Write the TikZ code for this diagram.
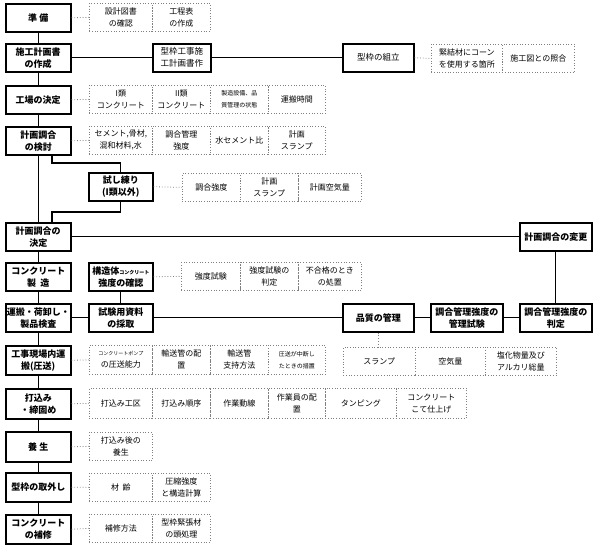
\documentclass[tikz,border=0pt]{standalone}
\usepackage{fontspec}
\setmainfont{Noto Sans CJK JP}
\begin{document}
\begin{tikzpicture}[x=1pt,y=-1pt,
  mainbox/.style={draw=black,line width=1.5pt,fill=white,font=\bfseries\fontsize{9}{12}\selectfont},
  subbox/.style={draw=black,line width=1.5pt,fill=white,font=\fontsize{8.5}{12}\selectfont},
  cellbox/.style={draw=gray,dotted,line width=0.7pt,font=\fontsize{8}{12}\selectfont},
  conn/.style={line width=1.2pt,black},
  dconn/.style={gray,dotted,line width=0.8pt}]
\useasboundingbox (0,0) rectangle (600,544);
\newcommand\bx[7][mainbox]{\node[#1,inner sep=0pt,align=center,anchor=north west,minimum width={(#5-#3)*1pt},minimum height={(#6-#4)*1pt}] (#2) at (#3,#4) {#7};}
\newcommand\smalltxt{\fontsize{6}{10}\selectfont}
% main column
\bx{m1}{5}{3}{70}{31}{準\ 備}
\bx{m2}{5}{43}{70}{71}{施工計画書\\の作成}
\bx{m3}{5}{85}{70}{113}{工場の決定}
\bx{m4}{5}{126}{70}{154}{計画調合\\の検討}
\bx{m5}{5}{222}{70}{250}{計画調合の\\決定}
\bx{m6}{5}{262}{70}{290}{コンクリート\\製\ \ 造}
\bx{m7}{5}{303}{70}{331}{運搬・荷卸し・\\製品検査}
\bx{m8}{5}{345}{70}{374}{工事現場内運\\搬(圧送)}
\bx{m9}{5}{388}{70}{418}{打込み\\・締固め}
\bx{m10}{5}{431}{70}{461}{養\ 生}
\bx{m11}{5}{472}{70}{501}{型枠の取外し}
\bx{m12}{5}{514}{70}{543}{コンクリート\\の補修}
\foreach \a/\b in {m1/m2,m2/m3,m3/m4,m4/m5,m5/m6,m6/m7,m7/m8,m8/m9,m9/m10,m10/m11,m11/m12}
  \draw[conn] (\a.south) -- (\b.north);
% other solid boxes
\bx[subbox]{kk}{152}{43}{210}{71}{型枠工事施\\工計画書作}
\bx[subbox]{kg}{342}{43}{413}{71}{型枠の組立}
\bx[mainbox]{tr}{88}{172}{152}{200}{試し練り\\(I類以外)}
\bx[mainbox]{hk}{519}{222}{591}{250}{計画調合の変更}
\bx[mainbox]{sk}{88}{262}{152}{290}{構造体{\fontsize{5}{8}\selectfont コンクリート}\\強度の確認}
\bx[mainbox]{sr}{88}{303}{152}{331}{試験用資料\\の採取}
\bx[mainbox]{qm}{342}{303}{413}{331}{品質の管理}
\bx[mainbox]{kt}{430}{303}{502}{331}{調合管理強度の\\管理試験}
\bx[mainbox]{hj}{519}{303}{591}{331}{調合管理強度の\\判定}
% cells
\bx[cellbox]{a1}{89}{3}{152}{31}{設計図書\\の確認}
\bx[cellbox]{a2}{152}{3}{210}{31}{工程表\\の作成}
\bx[cellbox]{g1}{431}{44}{502}{72}{緊結材にコーン\\を使用する箇所}
\bx[cellbox]{g2}{502}{44}{574}{72}{施工図との照合}
\bx[cellbox]{b1}{89}{85}{152}{113}{I類\\コンクリート}
\bx[cellbox]{b2}{152}{85}{210}{113}{II類\\コンクリート}
\bx[cellbox]{b3}{210}{85}{268}{113}{\smalltxt 製造設備、品\\\smalltxt 質管理の状態}
\bx[cellbox]{b4}{268}{85}{325}{113}{運搬時間}
\bx[cellbox]{c1}{89}{126}{152}{154}{セメント,骨材,\\混和材料,水}
\bx[cellbox]{c2}{152}{126}{210}{154}{調合管理\\強度}
\bx[cellbox]{c3}{210}{126}{268}{154}{水セメント比}
\bx[cellbox]{c4}{268}{126}{325}{154}{計画\\スランプ}
\bx[cellbox]{t1}{182}{173}{240}{201}{調合強度}
\bx[cellbox]{t2}{240}{173}{298}{201}{計画\\スランプ}
\bx[cellbox]{t3}{298}{173}{361}{201}{計画空気量}
\bx[cellbox]{s1}{181}{262}{240}{290}{強度試験}
\bx[cellbox]{s2}{240}{262}{298}{290}{強度試験の\\判定}
\bx[cellbox]{s3}{298}{262}{361}{290}{不合格のとき\\の処置}
\bx[cellbox]{e1}{89}{345}{152}{374}{{\fontsize{5}{10}\selectfont コンクリートポンプ}\\の圧送能力}
\bx[cellbox]{e2}{152}{345}{210}{374}{輸送管の配\\置}
\bx[cellbox]{e3}{210}{345}{268}{374}{輸送管\\支持方法}
\bx[cellbox]{e4}{268}{345}{325}{374}{\smalltxt 圧送が中断し\\\smalltxt たときの措置}
\bx[cellbox]{q1}{343}{347}{415}{375}{スランプ}
\bx[cellbox]{q2}{415}{347}{485}{375}{空気量}
\bx[cellbox]{q3}{485}{347}{556}{375}{塩化物量及び\\アルカリ総量}
\bx[cellbox]{f1}{89}{388}{152}{418}{打込み工区}
\bx[cellbox]{f2}{152}{388}{210}{418}{打込み順序}
\bx[cellbox]{f3}{210}{388}{268}{418}{作業動線}
\bx[cellbox]{f4}{268}{388}{325}{418}{作業員の配\\置}
\bx[cellbox]{f5}{325}{388}{396}{418}{タンピング}
\bx[cellbox]{f6}{396}{388}{466}{418}{コンクリート\\こて仕上げ}
\bx[cellbox]{h1}{89}{432}{152}{460}{打込み後の\\養生}
\bx[cellbox]{i1}{89}{473}{152}{501}{材\ \ 齢}
\bx[cellbox]{i2}{152}{473}{210}{501}{圧縮強度\\と構造計算}
\bx[cellbox]{j1}{89}{514}{152}{542}{補修方法}
\bx[cellbox]{j2}{152}{514}{210}{542}{型枠緊張材\\の頭処理}
% solid connectors
\draw[conn] (m2.east) -- (kk.west);
\draw[conn] (kk.east) -- (kg.west);
\coordinate (k1) at (52,163);
\coordinate (k3) at (52,212);
\draw[conn] (m4.south -| k1) -- (k1) -| (tr.north);
\draw[conn] (tr.south) |- (k3) -- (m5.north -| k3);
\draw[conn] (m5.east) -- (hk.west);
\draw[conn] (hk.south) -- (hj.north);
\draw[conn] (sk.south) -- (sr.north);
\draw[conn] (m7.east) -- (sr.west);
\draw[conn] (sr.east) -- (qm.west);
\draw[conn] (qm.east) -- (kt.west);
\draw[conn] (kt.east) -- (hj.west);
% dotted connectors
\draw[dconn] (m1.east) -- (a1.west);
\draw[dconn] (kg.east) -- (g1.west);
\draw[dconn] (m3.east) -- (b1.west);
\draw[dconn] (m4.east) -- (c1.west);
\draw[dconn] (tr.east) -- (t1.west);
\draw[dconn] (sk.east) -- (s1.west);
\draw[dconn] (m8.east) -- (e1.west);
\draw[dconn] (qm.south) -- (qm.south |- q1.north);
\draw[dconn] (m9.east) -- (f1.west);
\draw[dconn] (m10.east) -- (h1.west);
\draw[dconn] (m11.east) -- (i1.west);
\draw[dconn] (m12.east) -- (j1.west);
\end{tikzpicture}
\end{document}
